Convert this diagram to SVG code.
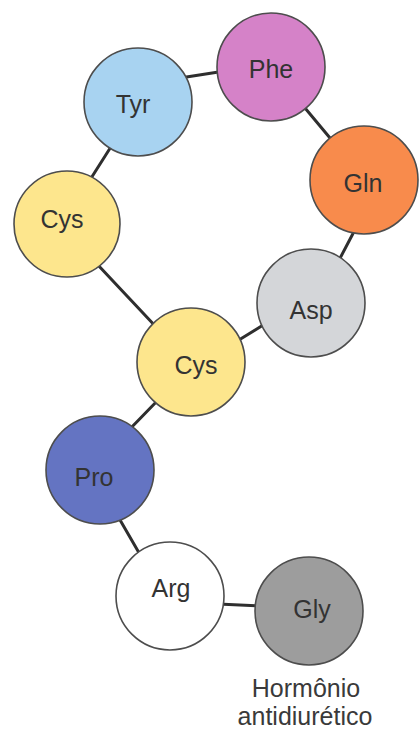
<svg xmlns="http://www.w3.org/2000/svg" width="419" height="729" viewBox="0 0 419 729">
  <style>
    .bond { stroke: #2e2e2e; stroke-width: 3; stroke-linecap: round; fill: none; }
    .res { stroke: #4d4d4d; stroke-width: 1.6; }
    .lbl { font-family: "Liberation Sans", Arial, sans-serif; font-size: 25px; fill: #333333; text-anchor: middle; }
    .cap { font-family: "Liberation Sans", Arial, sans-serif; font-size: 25px; fill: #3a3a3a; text-anchor: middle; }
  </style>
  <rect width="419" height="729" fill="#ffffff"/>

  <!-- peptide bonds -->
  <g id="connectors">
    <line class="bond" x1="180" y1="78" x2="225" y2="71"/>
    <line class="bond" x1="300" y1="102" x2="335" y2="144"/>
    <line class="bond" x1="114" y1="142" x2="88" y2="183"/>
    <line class="bond" x1="97" y1="264" x2="158" y2="329"/>
    <line class="bond" x1="358" y1="224" x2="337" y2="264"/>
    <line class="bond" x1="234" y1="343" x2="268" y2="322"/>
    <line class="bond" x1="160" y1="398" x2="127" y2="432"/>
    <line class="bond" x1="116" y1="513" x2="142" y2="558"/>
    <line class="bond" x1="218" y1="604" x2="261" y2="606"/>
  </g>

  <!-- amino acid residues -->
  <g id="phe">
    <circle class="res" cx="271" cy="67" r="54" fill="#d582c8"/>
    <text class="lbl" x="271" y="78" fill="#3d2340">Phe</text>
  </g>
  <g id="tyr">
    <circle class="res" cx="138" cy="102" r="54" fill="#a8d3f1"/>
    <text class="lbl" x="133" y="113">Tyr</text>
  </g>
  <g id="gln">
    <circle class="res" cx="364" cy="180" r="54" fill="#f88b4c"/>
    <text class="lbl" x="363" y="192">Gln</text>
  </g>
  <g id="cys1">
    <circle class="res" cx="67" cy="224" r="53" fill="#fde68d"/>
    <text class="lbl" x="62" y="228">Cys</text>
  </g>
  <g id="asp">
    <circle class="res" cx="311" cy="303" r="54" fill="#d4d6d9"/>
    <text class="lbl" x="311" y="319">Asp</text>
  </g>
  <g id="cys2">
    <circle class="res" cx="191" cy="362" r="54" fill="#fde68d"/>
    <text class="lbl" x="196" y="374">Cys</text>
  </g>
  <g id="pro">
    <circle class="res" cx="100" cy="470" r="54" fill="#6474c2"/>
    <text class="lbl" x="94" y="486" fill="#222a48">Pro</text>
  </g>
  <g id="arg">
    <circle class="res" cx="170" cy="596" r="54" fill="#ffffff"/>
    <text class="lbl" x="171" y="597">Arg</text>
  </g>
  <g id="gly">
    <circle class="res" cx="309" cy="611" r="54" fill="#9d9d9d"/>
    <text class="lbl" x="312" y="618">Gly</text>
  </g>

  <!-- caption -->
  <g id="caption">
    <text class="cap" x="306" y="697">Hormônio</text>
    <text class="cap" x="305" y="725">antidiurético</text>
  </g>
</svg>
